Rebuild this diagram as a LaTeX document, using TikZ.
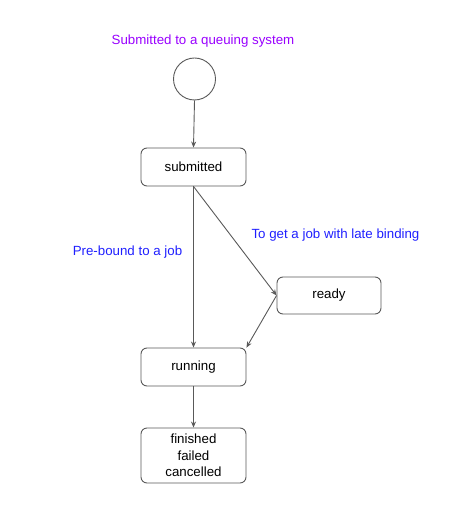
\documentclass[tikz,border=0pt]{standalone}
\usepackage{fontspec}
\setmainfont{Liberation Sans}
\usetikzlibrary{arrows.meta}
\definecolor{edge}{HTML}{595959}
\definecolor{lblue}{HTML}{1F1FFF}
\definecolor{lpurple}{HTML}{9900FF}
\begin{document}
\begin{tikzpicture}[x=1pt,y=-1pt,
  state/.style={draw=edge, line width=0.9pt, rounded corners=6pt, minimum width=105pt, minimum height=38pt, align=center, inner sep=0pt, font=\fontsize{13.3}{16.5}\selectfont},
  conn/.style={draw=edge, line width=0.9pt, -{Stealth[length=6pt,width=5pt]}},
  lbl/.style={font=\fontsize{13.3}{16}\selectfont, inner sep=0pt}]
\useasboundingbox (0,0) rectangle (475,518);
\node[circle, draw=edge, line width=0.9pt, minimum size=42pt, inner sep=0pt] (init) at (194.5,79) {};
\node[state] (submitted) at (193.5,167) {submitted};
\node[state, minimum width=104pt, minimum height=37pt] (ready) at (329,295.5) {ready};
\node[state] (running) at (193.5,367) {running};
\node[state, minimum height=55pt] (final) at (193.5,455.5) {finished\\failed\\cancelled};
\node[lbl, text=lpurple] (t1) at (203,41) {Submitted to a queuing system};
\node[lbl, text=lblue] (t2) at (127.5,252) {Pre-bound to a job};
\node[lbl, text=lblue] (t3) at (335.5,235) {To get a job with late binding};
\draw[conn] (init.south) -- (submitted.north);
\draw[conn] (submitted.south) -- (running.north);
\draw[conn] (submitted.south) -- (ready.west);
\draw[conn] (ready.west) -- (running.north east);
\draw[conn] (running.south) -- (final.north);
\end{tikzpicture}
\end{document}
